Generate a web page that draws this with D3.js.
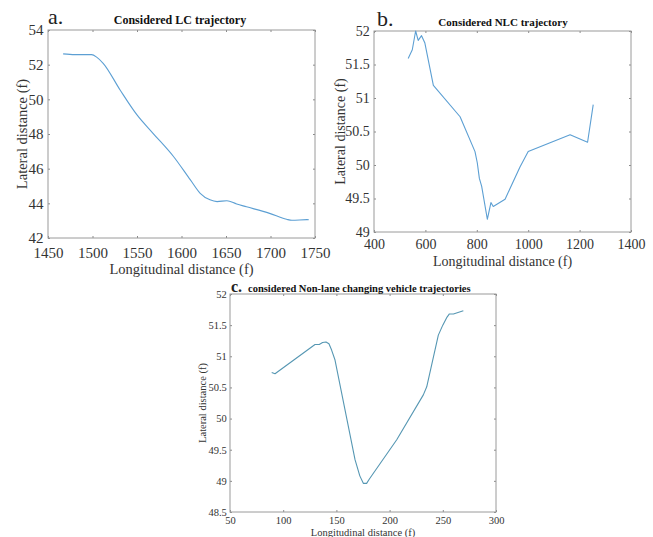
<html>
<head>
<meta charset="utf-8">
<title>Trajectories</title>
<style>
  body { margin: 0; padding: 0; background: #fff; }
  svg text { font-family: "Liberation Serif", "Times New Roman", "DejaVu Serif", serif; }
  .box { fill: none; stroke: #9a9a9a; stroke-width: 1; }
  .tick line { stroke: #8a8a8a; }
  .traj { fill: none; stroke-width: 1.1; stroke-linejoin: round; }
</style>
</head>
<body>
<svg id="fig" width="653" height="537"></svg>
<script src="https://d3js.org/d3.v7.min.js"></script>
<script>
// panel a: lane-changing trajectory
var lcX = [1467, 1480, 1499, 1505, 1512, 1531, 1550, 1568, 1591, 1610, 1621, 1632, 1640, 1651, 1662, 1673, 1699, 1718, 1724, 1741, 1743];
var lcY = [52.62, 52.58, 52.58, 52.42, 52.08, 50.54, 49.1, 48.04, 46.7, 45.35, 44.58, 44.2, 44.1, 44.15, 43.96, 43.8, 43.42, 43.08, 43.02, 43.06, 43.05];
var lcXTicks = [1450, 1500, 1550, 1600, 1650, 1700, 1750];
var lcYTicks = [42, 44, 46, 48, 50, 52, 54];

// panel b: non lane-changing trajectory
var nlcX = [533, 549, 562, 572, 585, 598, 631, 735, 793, 802, 810, 819, 841, 855, 864, 910, 968, 1000, 1163, 1231, 1253];
var nlcY = [51.59, 51.72, 52.0, 51.86, 51.93, 51.82, 51.19, 50.72, 50.2, 50.03, 49.8, 49.68, 49.19, 49.44, 49.38, 49.49, 49.97, 50.2, 50.45, 50.34, 50.9];
var nlcXTicks = [400, 600, 800, 1000, 1200, 1400];
var nlcYTicks = [49, 49.5, 50, 50.5, 51, 51.5, 52];

// panel c: non-lane changing vehicle trajectories
var nonX = [89.2, 92.3, 129.9, 133.9, 137, 140.2, 143, 145.5, 148.7, 167.5, 172, 175.3, 178.4, 181, 206.7, 231.7, 234.9, 245.8, 250, 254, 256.2, 260, 269.3];
var nonY = [50.74, 50.72, 51.19, 51.19, 51.22, 51.23, 51.2, 51.1, 50.94, 49.34, 49.08, 48.96, 48.96, 49.03, 49.66, 50.38, 50.51, 51.34, 51.5, 51.63, 51.68, 51.68, 51.73];
var nonXTicks = [50, 100, 150, 200, 250, 300];
var nonYTicks = [48.5, 49, 49.5, 50, 50.5, 51, 51.5, 52];

var svg = d3.select("#fig");
var serif = "'Liberation Serif', 'Times New Roman', 'DejaVu Serif', serif";

function drawPanel(p) {
    var g = svg.append("g");
    var x = d3.scaleLinear().domain(d3.extent(p.xTicks)).range([p.left, p.right]);
    var y = d3.scaleLinear().domain(d3.extent(p.yTicks)).range([p.bottom, p.top]);

    // ticks on all four sides, pointing inward
    g.append("g").attr("transform", "translate(0," + p.bottom + ")")
        .call(d3.axisBottom(x).tickValues(p.xTicks).tickSize(-2).tickPadding(p.xpad).tickFormat(d3.format("")))
        .attr("font-family", serif).attr("font-size", p.fs)
        .call(s => s.select(".domain").remove())
        .call(s => s.selectAll("text").attr("fill", "#333"));
    g.append("g").attr("transform", "translate(" + p.left + ",0)")
        .call(d3.axisLeft(y).tickValues(p.yTicks).tickSize(-2).tickPadding(p.fs * 0.3).tickFormat(d3.format("")))
        .attr("font-family", serif).attr("font-size", p.fs)
        .call(s => s.select(".domain").remove())
        .call(s => s.selectAll("text").attr("fill", "#333"));
    g.append("g").attr("transform", "translate(0," + p.top + ")")
        .call(d3.axisTop(x).tickValues(p.xTicks).tickSize(-2).tickFormat(""))
        .call(s => s.select(".domain").remove());
    g.append("g").attr("transform", "translate(" + p.right + ",0)")
        .call(d3.axisRight(y).tickValues(p.yTicks).tickSize(-2).tickFormat(""))
        .call(s => s.select(".domain").remove());

    g.append("rect").attr("class", "box")
        .attr("x", p.left).attr("y", p.top)
        .attr("width", p.right - p.left).attr("height", p.bottom - p.top);

    var line = d3.line().x(d => x(d[0])).y(d => y(d[1])).curve(p.curve);
    g.append("path").attr("class", "traj")
        .attr("stroke", p.color)
        .attr("d", line(d3.zip(p.xs, p.ys)));

    // panel letter and title
    g.append("text").attr("x", p.letterX).attr("y", p.titleY)
        .style("font-size", p.letterSize + "px").attr("fill", "#222")
        .style("font-weight", p.letterBold ? "bold" : "normal")
        .text(p.letter);
    g.append("text").attr("x", p.titleX).attr("y", p.titleY)
        .attr("text-anchor", p.titleAnchor).style("font-size", p.titleSize + "px")
        .style("font-weight", "bold").attr("fill", "#111")
        .text(p.title);

    g.append("text").attr("x", (p.left + p.right) / 2).attr("y", p.xlabY)
        .attr("text-anchor", "middle").style("font-size", p.labSize + "px").attr("fill", "#333")
        .text("Longitudinal distance (f)");
    g.append("text")
        .attr("transform", "translate(" + p.ylabX + "," + (p.top + p.bottom) / 2 + ") rotate(-90)")
        .attr("text-anchor", "middle").style("font-size", p.labSize + "px").attr("fill", "#333")
        .text("Lateral distance (f)");
}

drawPanel({
    left: 48, right: 315, top: 30, bottom: 238,
    xs: lcX, ys: lcY, xTicks: lcXTicks, yTicks: lcYTicks,
    color: "#5c9fd3", fs: 15, xpad: 9, curve: d3.curveMonotoneX,
    letter: "a.", letterX: 48, letterSize: 22, letterBold: false,
    title: "Considered LC trajectory", titleX: 180, titleY: 24, titleAnchor: "middle", titleSize: 12,
    xlabY: 274, ylabX: 27, labSize: 14.5
});

drawPanel({
    left: 374, right: 631, top: 31, bottom: 232,
    xs: nlcX, ys: nlcY, xTicks: nlcXTicks, yTicks: nlcYTicks,
    color: "#5c9fd3", fs: 14, xpad: 7, curve: d3.curveLinear,
    letter: "b.", letterX: 377, letterSize: 22, letterBold: false,
    title: "Considered NLC trajectory", titleX: 503, titleY: 26, titleAnchor: "middle", titleSize: 11,
    xlabY: 266, ylabX: 345, labSize: 14
});

drawPanel({
    left: 230, right: 496, top: 294, bottom: 512,
    xs: nonX, ys: nonY, xTicks: nonXTicks, yTicks: nonYTicks,
    color: "#5697b3", fs: 10.5, xpad: 5, curve: d3.curveLinear,
    letter: "c.", letterX: 231, letterSize: 16, letterBold: true,
    title: "considered Non-lane changing vehicle trajectories", titleX: 248, titleY: 292, titleAnchor: "start", titleSize: 10.5,
    xlabY: 536, ylabX: 206, labSize: 10.5
});
</script>
</body>
</html>
